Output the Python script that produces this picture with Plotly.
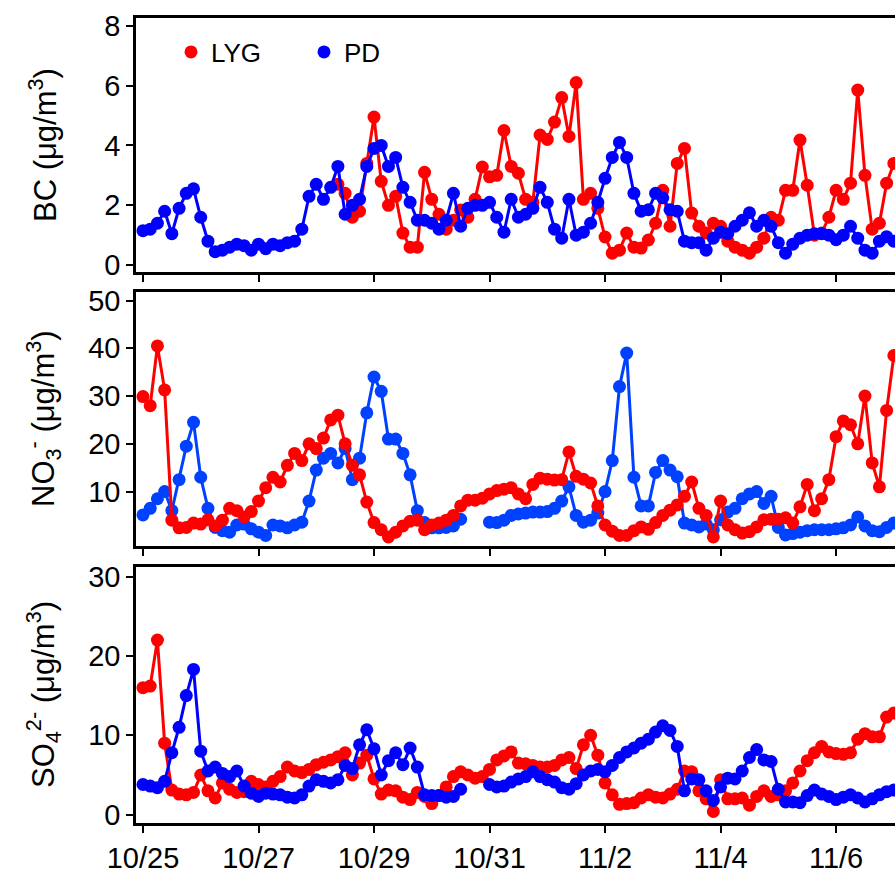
import pandas as pd
import plotly.graph_objects as go

# ---------------- data (3-hourly, starting 10/25 00:00) ----------------
times = pd.date_range("2018-10-25 00:00", periods=105, freq="3h")
N = None

bc_pd = [1.15, 1.2, 1.4, 1.8, 1.05, 1.9, 2.4, 2.55, 1.6, 0.8,
         0.45, 0.5, 0.6, 0.7, 0.65, 0.5, 0.7, 0.55, 0.7, 0.65,
         0.75, 0.8, 1.2, 2.3, 2.7, 2.2, 2.6, 3.3, 1.7, 2.0,
         2.2, 3.3, 3.9, 4.0, 3.3, 3.6, 2.6, 2.1, 1.5, 1.5,
         1.4, 1.2, 1.5, 2.4, 1.3, 1.9, 2.0, 2.0, 2.1, 1.6,
         1.1, 2.2, 1.6, 1.7, 1.9, 2.6, 2.1, 1.2, 0.9, 2.2,
         1.0, 1.1, 1.4, 2.1, 2.9, 3.6, 4.1, 3.6, 2.4, 1.8,
         1.85, 2.4, 2.25, 1.85, 1.8, 0.8, 0.75, 0.75, 0.5, 0.9,
         1.1, 1.05, 1.3, 1.5, 1.75, 1.3, 1.5, 1.3, 0.75, 0.4,
         0.7, 0.9, 1.0, 1.05, 1.05, 1.0, 0.85, 1.0, 1.3, 0.9,
         0.5, 0.4, 0.8, 0.95, 0.8]

bc_lyg = [N, N, N, N, N, N, N, N, N, N,
          N, N, N, N, N, N, N, N, N, N,
          N, N, N, N, N, N, N, 2.7, 2.4, 1.6,
          1.8, 3.4, 4.95, 2.8, 2.0, 2.3, 1.07, 0.6, 0.6, 3.1,
          2.2, 1.7, 1.2, 1.5, 1.84, 1.6, 2.2, 3.28, 2.95, 3.0,
          4.5, 3.3, 3.07, 2.2, 2.1, 4.35, 4.2, 4.78, 5.6, 4.3,
          6.1, 2.2, 2.4, 1.9, 0.94, 0.4, 0.5, 1.07, 0.6, 0.57,
          0.84, 1.4, 2.5, 1.3, 3.4, 3.9, 1.74, 1.3, 1.07, 1.4,
          1.3, 0.8, 0.6, 0.5, 0.4, 0.6, 0.9, 1.6, 1.5, 2.5,
          2.5, 4.18, 2.67, 1.0, 1.07, 1.6, 2.5, 2.2, 2.74, 5.85,
          3.0, 1.2, 1.4, 2.74, 3.4]

no3_lyg = [29.9, 28.0, 40.5, 31.3, 4.0, 2.4, 2.5, 3.4, 3.2, 4.1,
           2.8, 4.0, 6.5, 6.0, 4.7, 5.8, 8.0, 10.8, 13.0, 12.0,
           15.5, 18.0, 16.5, 20.0, 19.0, 21.2, 25.0, 26.0, 20.0, 15.5,
           13.5, 7.8, 3.5, 2.0, 0.5, 1.5, 2.8, 3.8, 4.0, 2.0,
           3.0, 3.4, 4.0, 5.0, 7.0, 8.2, 8.2, 8.6, 9.5, 10.2,
           10.5, 10.8, 9.5, 8.5, 11.5, 12.8, 12.6, 12.4, 12.5, 18.3,
           13.2, 12.6, 11.8, 7.0, 3.0, 1.7, 0.8, 0.8, 1.8, 2.6,
           2.1, 3.5, 5.0, 6.1, 7.2, 9.0, 12.0, 6.5, 5.0, 0.5,
           8.0, 3.0, 2.0, 1.3, 1.6, 2.6, 4.1, 4.2, 4.2, 4.5,
           3.4, 6.8, 11.5, 6.0, 8.5, 12.5, 21.5, 24.8, 24.0, 20.0,
           30.0, 16.0, 11.0, 27.0, 38.5]

no3_pd = [5.1, 6.5, 8.5, 10.0, 6.0, 12.5, 19.5, 24.5, 13.0, 6.5,
          2.5, 1.8, 1.5, 3.0, 3.2, 2.2, 1.5, 0.8, 3.0, 2.8,
          2.4, 3.0, 3.6, 8.0, 14.5, 17.0, 18.0, 16.0, 19.0, 12.5,
          17.0, 26.5, 34.0, 31.0, 21.0, 21.0, 18.0, 13.5, 6.0, 3.5,
          2.4, 2.4, 2.5, 2.8, 4.2, N, N, N, 3.6, 3.5,
          4.0, 5.0, 5.3, 5.5, 5.7, 5.7, 5.8, 6.5, 8.0, 11.0,
          5.0, 3.6, 4.0, 5.5, 10.0, 16.5, 32.0, 39.0, 13.0, 7.0,
          7.0, 14.0, 16.5, 14.5, 13.1, 3.4, 3.0, 2.6, 3.2, 2.0,
          4.1, 5.7, 6.5, 8.5, 9.5, 10.0, 7.5, 9.0, 2.5, 0.9,
          1.2, 1.5, 1.8, 2.0, 2.0, 2.0, 2.2, 2.4, 3.0, 4.7,
          2.8, 1.8, 1.6, 2.5, 3.4]

so4_lyg = [16.0, 16.2, 22.0, 9.0, 3.1, 2.6, 2.5, 2.8, 5.0, 3.0,
           2.1, 4.0, 3.2, 2.8, 2.9, 4.2, 3.8, 3.5, 4.2, 4.8,
           6.0, 5.5, 5.3, 5.7, 6.3, 6.6, 6.9, 7.3, 7.8, 5.0,
           6.5, 7.5, 4.5, 2.6, 3.1, 3.0, 2.2, 1.9, 2.8, 2.3,
           1.4, 2.4, 3.5, 4.8, 5.4, 5.0, 4.6, 4.8, 5.7, 6.9,
           7.4, 7.9, 6.5, 6.4, 6.2, 6.0, 6.0, 6.2, 6.9, 7.2,
           5.8, 8.8, 10.0, 7.5, 4.0, 2.5, 1.3, 1.4, 1.5, 2.1,
           2.5, 2.2, 2.1, 2.6, 3.2, 5.5, 5.4, 3.0, 2.0, 0.4,
           4.4, 2.0, 2.0, 2.1, 1.2, 2.3, 3.0, 2.3, 2.5, 3.0,
           4.0, 5.5, 6.8, 7.8, 8.6, 7.9, 7.7, 7.6, 7.8, 9.5,
           10.2, 9.8, 9.8, 12.3, 12.8]

so4_pd = [3.8, 3.6, 3.4, 4.2, 7.8, 11.0, 15.0, 18.3, 8.0, 5.5,
          6.0, 5.2, 4.8, 5.5, 3.6, 2.7, 2.3, 2.7, 2.6, 2.5,
          2.2, 2.1, 2.5, 3.6, 4.4, 4.2, 4.0, 4.4, 6.2, 5.8,
          8.8, 10.7, 8.3, 5.0, 6.8, 7.8, 6.3, 8.4, 6.0, 2.5,
          2.4, 2.4, 2.2, 2.3, 3.2, N, N, N, 3.8, 3.5,
          3.6, 4.1, 4.5, 4.8, 5.4, 4.8, 4.4, 4.1, 3.4, 3.2,
          3.9, 5.0, 5.5, 5.7, 5.4, 6.2, 7.2, 7.9, 8.4, 9.0,
          9.5, 10.4, 11.2, 10.6, 8.6, 3.0, 4.5, 4.4, 3.0, 1.8,
          3.5, 4.6, 4.5, 5.5, 7.2, 8.2, 6.9, 6.7, 3.2, 1.6,
          1.6, 1.5, 2.4, 3.1, 2.6, 2.3, 1.9, 2.2, 2.5, 2.1,
          1.6, 2.0, 2.5, 2.9, 3.1]

tick_dates = ["2018-10-25", "2018-10-27", "2018-10-29", "2018-10-31",
              "2018-11-02", "2018-11-04", "2018-11-06"]
tick_labels = ["10/25", "10/27", "10/29", "10/31", "11/2", "11/4", "11/6"]

RED = "#ff0000"
BLUE = "#0000ff"
BLUE2 = "#0040ff"
FONT = "Liberation Sans, Arial, sans-serif"

fig = go.Figure()

def add(y, color, xa, ya):
    fig.add_trace(go.Scatter(
        x=times, y=y, mode="lines+markers", xaxis=xa, yaxis=ya,
        line=dict(color=color, width=3),
        marker=dict(color=color, size=13),
        showlegend=False, hoverinfo="skip"))

add(bc_lyg, RED, "x", "y")
add(bc_pd, BLUE, "x", "y")
add(no3_pd, BLUE2, "x2", "y2")
add(no3_lyg, RED, "x2", "y2")
add(so4_lyg, RED, "x3", "y3")
add(so4_pd, BLUE, "x3", "y3")

# legend entries (markers only)
fig.add_trace(go.Scatter(x=[None], y=[None], mode="markers", name="LYG",
                         marker=dict(color=RED, size=13), xaxis="x", yaxis="y"))
fig.add_trace(go.Scatter(x=[None], y=[None], mode="markers", name="PD",
                         marker=dict(color=BLUE, size=13), xaxis="x", yaxis="y"))

xr = ["2018-10-24 21:06", "2018-11-07 00:29"]
W, H = 895, 873

def xaxis(anchor, labels):
    return dict(range=xr, domain=[136 / W, 1.0], anchor=anchor, automargin=False,
                tickmode="array", tickvals=tick_dates,
                ticktext=tick_labels,
                showticklabels=labels, ticks="outside", ticklen=7, tickwidth=2,
                tickcolor="black", showline=True, linecolor="black", linewidth=2.5,
                mirror=True, showgrid=False, zeroline=False,
                tickfont=dict(size=29, color="black", family=FONT))

def yaxis(anchor, top, bottom, rng, tv):
    return dict(range=rng, domain=[1 - bottom / H, 1 - top / H], anchor=anchor,
                automargin=False,
                tickmode="array", tickvals=tv, ticks="outside", ticklen=7,
                tickwidth=2, tickcolor="black", showline=True, linecolor="black",
                linewidth=2.5, mirror=False, showgrid=False, zeroline=False,
                tickfont=dict(size=29, color="black", family=FONT))

def ytitle(text, ycenter):
    return dict(text=text, x=43 / W, y=1 - ycenter / H, xref="paper", yref="paper",
                xanchor="center", yanchor="middle", textangle=-90, showarrow=False,
                font=dict(size=31, color="black", family=FONT))

fig.update_layout(
    width=W, height=H, margin=dict(l=0, r=0, t=0, b=0, autoexpand=False),
    paper_bgcolor="white", plot_bgcolor="white",
    font=dict(family=FONT, color="black"),
    xaxis=xaxis("y", False),
    xaxis2=xaxis("y2", False),
    xaxis3=xaxis("y3", True),
    yaxis=yaxis("x", 18, 272, [-0.23, 8.26], [0, 2, 4, 6, 8]),
    yaxis2=yaxis("x2", 292, 546, [-1.4, 51.8], [10, 20, 30, 40, 50]),
    yaxis3=yaxis("x3", 567, 823, [-1.05, 31.2], [0, 10, 20, 30]),
    legend=dict(orientation="h", x=171 / W, xanchor="left", y=1 - 52 / H,
                yanchor="middle", font=dict(size=26, color="black", family=FONT),
                bgcolor="rgba(0,0,0,0)", entrywidth=88, entrywidthmode="pixels"),
    annotations=[
        ytitle("BC (μg/m<sup>3</sup>)", 145),
        ytitle("NO<sub>3</sub><sup>-</sup> (μg/m<sup>3</sup>)", 419),
        ytitle("SO<sub>4</sub><sup>2-</sup> (μg/m<sup>3</sup>)", 695),
    ],
)

fig.write_html("out.html", config={"displayModeBar": False},
               post_script="document.body.style.margin='0px';"
                           "document.documentElement.style.overflow='hidden';")
